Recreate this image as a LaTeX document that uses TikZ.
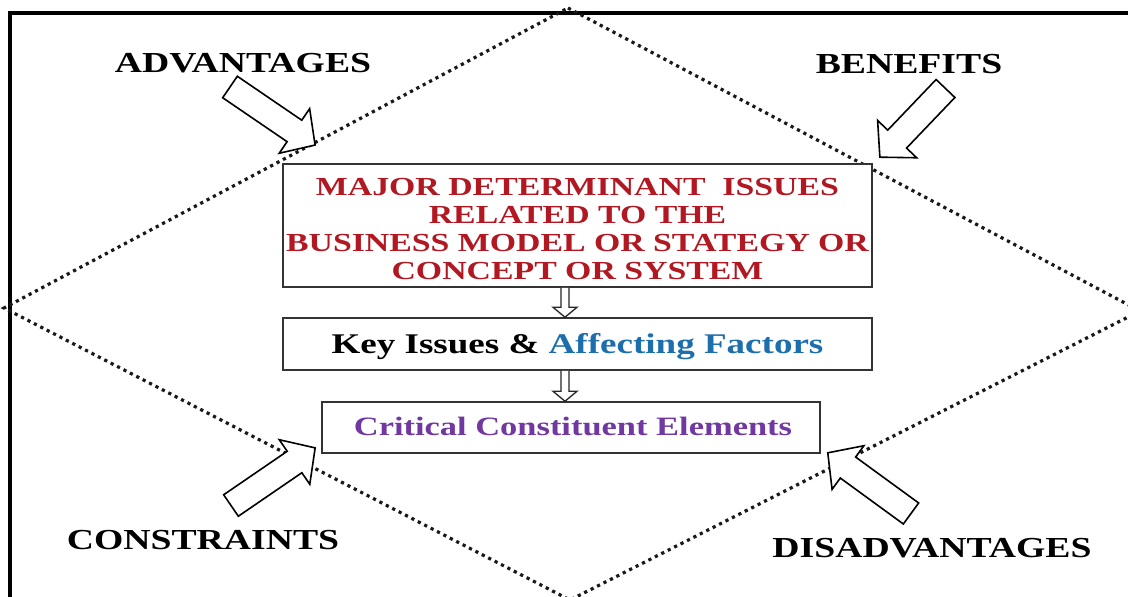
\documentclass[tikz,border=0pt]{standalone}
\usepackage{fontspec}
\setmainfont{Liberation Serif}[FakeStretch=1.3]
\usetikzlibrary{calc}
\definecolor{redtxt}{RGB}{178,24,34}
\definecolor{bluetxt}{RGB}{28,110,172}
\definecolor{purtxt}{RGB}{112,56,160}
\newcommand\blockarr[3]{%
  \begin{scope}[shift={#1},rotate=#2]
    \draw[bigarrow] (0,13) -- (#3-25,13) -- (#3-25,27) -- (#3,0) -- (#3-25,-27) -- (#3-25,-13) -- (0,-13) -- cycle;
  \end{scope}}
\begin{document}
\begin{tikzpicture}[x=1pt,y=-1pt,
  box/.style={draw=black!80, line width=1.5pt, fill=white, inner sep=0pt},
  lab/.style={font=\bfseries\fontsize{29}{29}\selectfont, inner sep=0pt, anchor=base},
  bigarrow/.style={draw=black, line width=1.6pt, fill=white, line join=miter},
  smallarrow/.style={draw=black!85, line width=1.3pt, fill=white},
  dots/.style={line width=3.2pt, dash pattern=on 3.2pt off 4pt, black!90}]
\useasboundingbox (0,0) rectangle (1128,597);
\clip (0,0) rectangle (1128,597);
\fill[white] (0,0) rectangle (1128,597);
% frame
\draw[line width=3.5pt] (10,620) -- (10,13) -- (1150,13);
% diamond
\coordinate (T) at (568,8);
\coordinate (R) at (1140,311);
\coordinate (B) at (570,600);
\coordinate (L) at (4,308);
\draw[dots] (T) -- (R) -- (B) -- (L) -- cycle;
% boxes
\node[box, minimum width=589, minimum height=123] (b1) at (577.5,225.5) {};
\node[font=\bfseries\fontsize{26}{27.7}\selectfont, text=redtxt, align=center, inner sep=0pt] (t1) at (577.5,229)
  {MAJOR DETERMINANT\ \ ISSUES\\RELATED TO THE\\BUSINESS MODEL OR STATEGY OR\\CONCEPT OR SYSTEM};
\node[box, minimum width=589, minimum height=52] (b2) at (577.5,344) {};
\node[font=\bfseries\fontsize{28.5}{28.5}\selectfont, inner sep=0pt, anchor=base] (t2) at (577.5,353)
  {Key Issues \& \textcolor{bluetxt}{Affecting Factors}};
\node[box, minimum width=498, minimum height=51] (b3) at (571,427.5) {};
\node[font=\bfseries\fontsize{26.5}{26.5}\selectfont, text=purtxt, inner sep=0pt, anchor=base] (t3) at (573,435)
  {Critical Constituent Elements};
% small connectors
\coordinate (a1) at ($(b1.south)+(-12.5,0)$);
\coordinate (a1e) at ($(b2.north)+(-12.5,0)$);
\draw[smallarrow] ($(a1)+(-4,0)$) -- ($(a1e)+(-4,-10)$) -- ($(a1e)+(-12,-10)$) -- (a1e) -- ($(a1e)+(12,-10)$) -- ($(a1e)+(4,-10)$) -- ($(a1)+(4,0)$);
\coordinate (a2) at ($(b2.south)+(-12.5,0)$);
\coordinate (a2e) at ($(b3.north)+(-6,0)$);
\draw[smallarrow] ($(a2)+(-4,0)$) -- ($(a2e)+(-4,-10)$) -- ($(a2e)+(-12,-10)$) -- (a2e) -- ($(a2e)+(12,-10)$) -- ($(a2e)+(4,-10)$) -- ($(a2)+(4,0)$);
% big arrows
\blockarr{(230,87)}{-34.3}{103}
\blockarr{(945.5,88.5)}{-133.7}{95}
\blockarr{(231,505.5)}{34.4}{102}
\blockarr{(911,513.5)}{143.9}{103}
% labels
\node[lab] (adv) at (243,72) {ADVANTAGES};
\node[lab] (ben) at (909,73) {BENEFITS};
\node[lab] (con) at (203,549) {CONSTRAINTS};
\node[lab] (dis) at (932,557) {DISADVANTAGES};
\end{tikzpicture}
\end{document}
